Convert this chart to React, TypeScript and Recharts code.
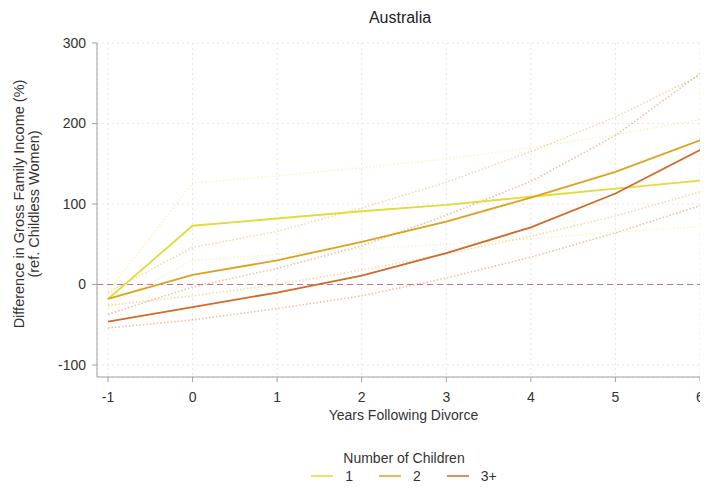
import React from "react"
import { LineChart, Line, XAxis, YAxis, CartesianGrid, ReferenceLine, Legend } from "recharts"

const years = [-1, 0, 1, 2, 3, 4, 5, 6]
const groupNames = ["1", "2", "3+"]

// point estimates (%)
const oneChild = [-18, 73, 82, 91, 99, 109, 119, 129]
const twoChildren = [-18, 12, 30, 53, 78, 108, 140, 179]
const threePlus = [-46, -28, -10, 11, 39, 71, 113, 167]

// confidence bands
const oneChildHi = [-9, 126, 135, 145, 156, 170, 186, 205]
const oneChildLo = [-26, 30, 37, 44, 50, 57, 65, 72]
const twoChildrenHi = [-10, 46, 66, 95, 127, 165, 208, 260]
const twoChildrenLo = [-26, -14, 0, 18, 38, 60, 85, 115]
const threePlusHi = [-37, -3, 20, 48, 86, 128, 185, 262]
const threePlusLo = [-54, -44, -30, -14, 8, 34, 64, 98]

const yTicks = [-100, 0, 100, 200, 300]

const colors = { one: "#e2db3a", two: "#dca21a", three: "#cf6a2a" }
const font = "'Liberation Sans', Arial, sans-serif"

const rows = years.map((year, i) => ({
  year,
  one: oneChild[i],
  oneHi: oneChildHi[i],
  oneLo: oneChildLo[i],
  two: twoChildren[i],
  twoHi: twoChildrenHi[i],
  twoLo: twoChildrenLo[i],
  three: threePlus[i],
  threeHi: threePlusHi[i],
  threeLo: threePlusLo[i],
}))

const YTitle = () => (
  <g fontFamily={font} fontSize={14.5} fill="#333">
    <text x={11} y={196} textAnchor="middle" dominantBaseline="central" transform="rotate(-90, 11, 196)">
      Difference in Gross Family Income (%)
    </text>
    <text x={26} y={196} textAnchor="middle" dominantBaseline="central" transform="rotate(-90, 26, 196)">
      (ref. Childless Women)
    </text>
  </g>
)

const ChildrenLegend = ({ payload }: { payload?: Array<{ value: string; color: string }> }) => (
  <div style={{ width: 692, height: 52, paddingLeft: 100, paddingTop: 14, boxSizing: "border-box", textAlign: "center", fontFamily: font, fontSize: 14, color: "#333" }}>
    <div style={{ lineHeight: "16px" }}>Number of Children</div>
    <div style={{ display: "flex", justifyContent: "center", gap: 26, marginTop: 2, lineHeight: "16px" }}>
      {payload
        ?.filter(entry => groupNames.includes(entry.value))
        .map((entry, index) => (
          <div key={index} style={{ display: "flex", alignItems: "center", gap: 12 }}>
            <div style={{ width: 22, height: 2, backgroundColor: entry.color, opacity: 0.75 }}></div>
            <span>{entry.value}</span>
          </div>
        ))}
    </div>
  </div>
)

const band = (key: string, color: string, opacity: number) => (
  <Line
    key={key}
    dataKey={key}
    stroke={color}
    strokeOpacity={opacity}
    strokeWidth={1.6}
    strokeDasharray="1.5 2"
    dot={false}
    legendType="none"
    isAnimationActive={false}
  />
)

export default function App() {
  return (
    <div style={{ position: "relative", width: 700, height: 480, fontFamily: font }}>
      <div style={{ position: "absolute", left: 89, width: 606, top: 1, textAlign: "center", fontSize: 16, color: "#222", lineHeight: "18px" }}>
        Australia
      </div>
      <LineChart width={700} height={480} data={rows} margin={{ top: 35, right: 8, left: 0, bottom: 0 }}>
        <CartesianGrid stroke="#e6e6e6" strokeDasharray="2 3" />
        <XAxis
          dataKey="year"
          type="number"
          domain={[-1, 6]}
          ticks={years}
          padding={{ left: 11, right: 0 }}
          height={59}
          stroke="#a0a0a0"
          tickSize={5}
          tickMargin={10}
          tick={{ fill: "#333", fontSize: 14, fontFamily: font }}
          label={{ value: "Years Following Divorce", position: "insideBottom", offset: 16, dx: 5, fill: "#333", fontSize: 14, fontFamily: font }}
        />
        <YAxis
          type="number"
          domain={[-100, 300]}
          ticks={yTicks}
          padding={{ top: 0, bottom: 12 }}
          width={89}
          stroke="#a0a0a0"
          tickSize={5}
          tickMargin={6}
          tick={{ fill: "#333", fontSize: 14, fontFamily: font }}
          label={<YTitle />}
        />
        <ReferenceLine y={0} stroke="#cc6e93" strokeDasharray="6 4" strokeWidth={1.2} />
        {band("oneHi", colors.one, 0.28)}
        {band("oneLo", colors.one, 0.28)}
        {band("twoHi", colors.two, 0.38)}
        {band("twoLo", colors.two, 0.38)}
        {band("threeHi", colors.three, 0.42)}
        {band("threeLo", colors.three, 0.42)}
        <Line dataKey="one" name="1" stroke={colors.one} strokeWidth={1.8} dot={false} isAnimationActive={false} />
        <Line dataKey="two" name="2" stroke={colors.two} strokeWidth={1.8} dot={false} isAnimationActive={false} />
        <Line dataKey="three" name="3+" stroke={colors.three} strokeWidth={1.8} dot={false} isAnimationActive={false} />
        <Legend verticalAlign="bottom" content={<ChildrenLegend />} />
      </LineChart>
    </div>
  )
}
